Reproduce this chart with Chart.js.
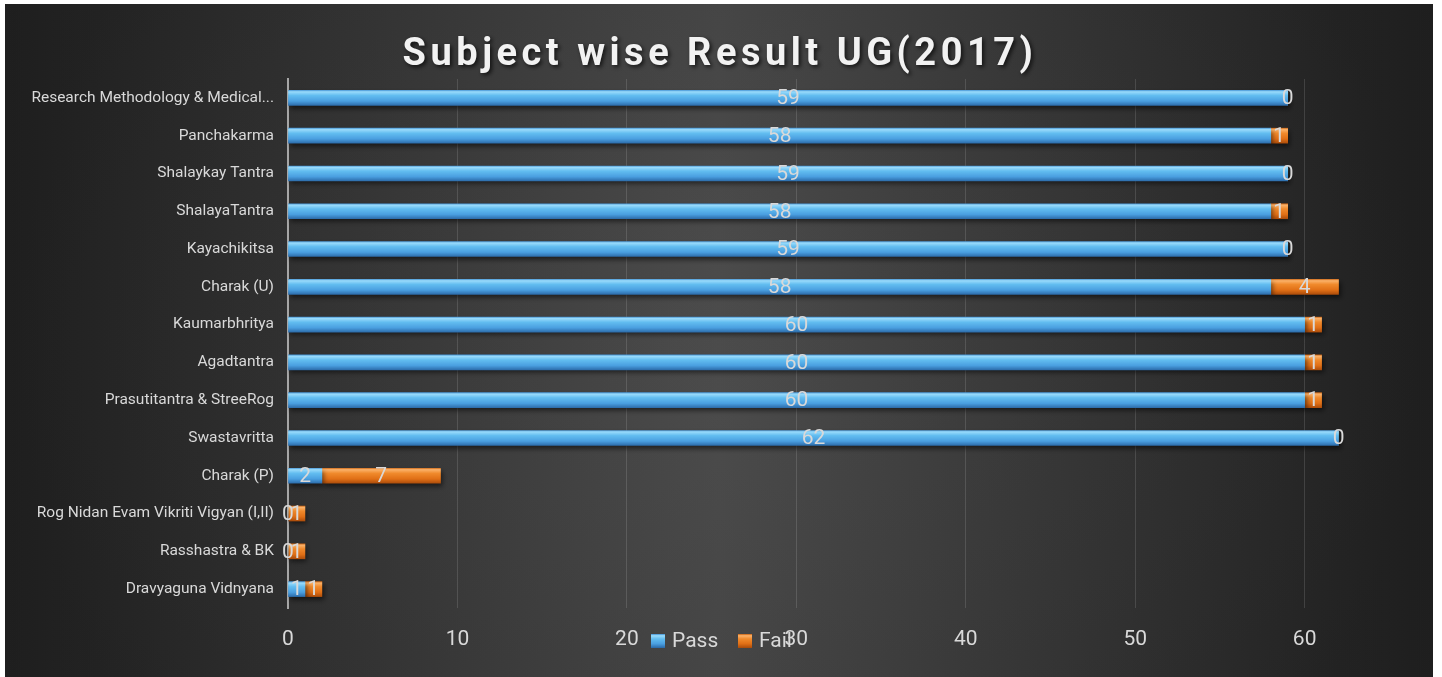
<!DOCTYPE html>
<html>
<head>
<meta charset="utf-8">
<script src="https://cdn.jsdelivr.net/npm/chart.js@4.4.1/dist/chart.umd.min.js"></script>
<style>
    html, body { margin: 0; padding: 0; background: #fff; }
    #wrap { position: absolute; left: 5px; top: 4px; width: 1428px; height: 673px; }
</style>
</head>
<body>
<div id="wrap"><canvas id="myChart"></canvas></div>
<script>
const chartTitle = 'Subject wise Result UG(2017)';
const subjects = [
    'Research Methodology & Medical...',
    'Panchakarma',
    'Shalaykay Tantra',
    'ShalayaTantra',
    'Kayachikitsa',
    'Charak (U)',
    'Kaumarbhritya',
    'Agadtantra',
    'Prasutitantra & StreeRog',
    'Swastavritta',
    'Charak (P)',
    'Rog Nidan Evam Vikriti Vigyan (I,II)',
    'Rasshastra & BK',
    'Dravyaguna Vidnyana'
];
const passValues = [59, 58, 59, 58, 59, 58, 60, 60, 60, 62, 2, 0, 0, 1];
const failValues = [0, 1, 0, 1, 0, 4, 1, 1, 1, 0, 7, 1, 1, 1];
const xTicks = [0, 10, 20, 30, 40, 50, 60];

const blueStops = [[0, '#3f8fd2'], [0.12, '#9adbfb'], [0.35, '#62bdf0'], [0.7, '#4a9fe0'], [1, '#2a68a6']];
const orangeStops = [[0, '#c8600f'], [0.12, '#fbb26a'], [0.35, '#f08a2c'], [0.7, '#e06f16'], [1, '#a84a0a']];

// vertical bevel gradient for each bar
function bevel(context, stops) {
    const chart = context.chart;
    const y = chart.scales.y;
    if (context.type !== 'data' || !y) return stops[2][1];
    const yc = y.getPixelForValue(context.dataIndex);
    if (!Number.isFinite(yc)) return stops[2][1];
    const g = chart.ctx.createLinearGradient(0, yc - 8, 0, yc + 8);
    stops.forEach(s => g.addColorStop(s[0], s[1]));
    return g;
}

const decor = {
    id: 'decor',
    beforeDraw(chart) {
        const { ctx, width, height } = chart;
        ctx.save();
        const g = ctx.createLinearGradient(0, 0, width, 0);
        g.addColorStop(0, '#222222');
        g.addColorStop(0.5, '#4a4a4a');
        g.addColorStop(1, '#222222');
        ctx.fillStyle = g;
        ctx.fillRect(0, 0, width, height);
        const r = ctx.createRadialGradient(width / 2, height / 2, 50, width / 2, height / 2, 700);
        r.addColorStop(0, 'rgba(80,80,80,0.2)');
        r.addColorStop(1, 'rgba(20,20,20,0.25)');
        ctx.fillStyle = r;
        ctx.fillRect(0, 0, width, height);

        // title
        ctx.font = 'bold 38px Roboto';
        ctx.letterSpacing = '4.5px';
        ctx.textAlign = 'center';
        ctx.textBaseline = 'middle';
        ctx.shadowColor = 'rgba(0,0,0,0.7)';
        ctx.shadowBlur = 4;
        ctx.shadowOffsetX = 2;
        ctx.shadowOffsetY = 2;
        ctx.fillStyle = '#f2f2f2';
        ctx.fillText(chartTitle, 715, 51);
        ctx.restore();
    },
    beforeDatasetsDraw(chart) {
        const ctx = chart.ctx;
        ctx.save();
        ctx.shadowColor = 'rgba(0,0,0,0.55)';
        ctx.shadowBlur = 5;
        ctx.shadowOffsetX = 2;
        ctx.shadowOffsetY = 3;
    },
    afterDatasetsDraw(chart) {
        const ctx = chart.ctx;
        ctx.restore();
        ctx.save();
        ctx.font = '21px Roboto';
        ctx.fillStyle = '#d9d9d9';
        ctx.textAlign = 'center';
        ctx.textBaseline = 'middle';
        chart.data.datasets.forEach((ds, i) => {
            chart.getDatasetMeta(i).data.forEach((bar, j) => {
                ctx.fillText(String(ds.data[j]), (bar.x + bar.base) / 2, bar.y + 1);
            });
        });
        ctx.restore();
    },
    afterDraw(chart) {
        // legend
        const ctx = chart.ctx;
        ctx.save();
        ctx.font = '21px Roboto';
        ctx.textBaseline = 'middle';
        const items = [
            { label: chart.data.datasets[0].label, stops: blueStops, x: 646 },
            { label: chart.data.datasets[1].label, stops: orangeStops, x: 733 }
        ];
        const yc = 637;
        items.forEach(it => {
            const g = ctx.createLinearGradient(0, yc - 7, 0, yc + 7);
            it.stops.forEach(s => g.addColorStop(s[0], s[1]));
            ctx.fillStyle = g;
            ctx.fillRect(it.x, yc - 7, 14, 14);
            ctx.fillStyle = '#d9d9d9';
            ctx.fillText(it.label, it.x + 21, yc + 1);
        });
        ctx.restore();
    }
};

new Chart(document.getElementById('myChart'), {
    type: 'bar',
    data: {
        labels: subjects,
        datasets: [
            {
                label: 'Pass',
                data: passValues,
                backgroundColor: ctx => bevel(ctx, blueStops),
                borderWidth: 0,
                barThickness: 15
            },
            {
                label: 'Fail',
                data: failValues,
                backgroundColor: ctx => bevel(ctx, orangeStops),
                borderWidth: 0,
                barThickness: 15
            }
        ]
    },
    options: {
        indexAxis: 'y',
        responsive: true,
        maintainAspectRatio: false,
        animation: false,
        devicePixelRatio: 1,
        layout: { padding: { top: 75, right: 86, left: 0, bottom: 0 } },
        plugins: {
            legend: { display: false },
            title: { display: false },
            tooltip: { enabled: false }
        },
        scales: {
            x: {
                stacked: true,
                min: 0,
                max: 62.5,
                afterFit(s) { s.height = 69; },
                afterBuildTicks(s) { s.ticks = xTicks.map(v => ({ value: v })); },
                ticks: {
                    stepSize: 10,
                    includeBounds: false,
                    color: '#d9d9d9',
                    font: { family: 'Roboto', size: 21 },
                    padding: 19
                },
                grid: { color: 'rgba(255,255,255,0.13)', lineWidth: 1, drawTicks: false },
                border: { display: false }
            },
            y: {
                stacked: true,
                afterFit(s) { s.width = 283; },
                ticks: {
                    color: '#d9d9d9',
                    font: { family: 'Roboto', size: 15.5 },
                    padding: 14,
                    autoSkip: false
                },
                grid: { display: false, drawTicks: false },
                border: { display: true, color: '#a6a6a6', width: 2 }
            }
        }
    },
    plugins: [decor]
});
</script>
</body>
</html>
